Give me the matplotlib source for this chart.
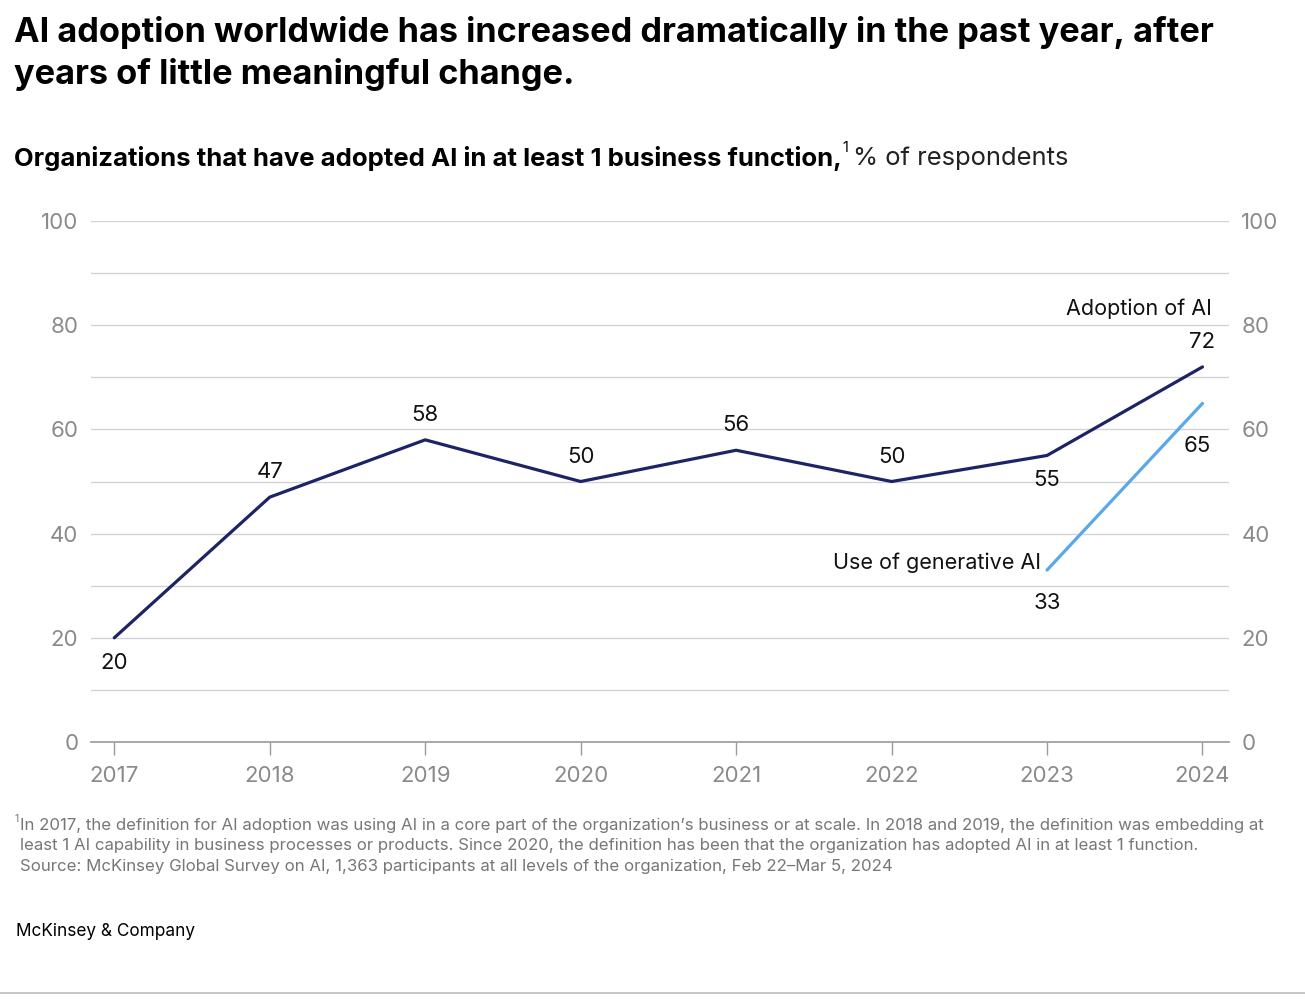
import matplotlib
matplotlib.use("Agg")
import matplotlib.pyplot as plt

plt.rcParams['font.family'] = ['Inter', 'DejaVu Sans']

years = [2017, 2018, 2019, 2020, 2021, 2022, 2023, 2024]
adoption = [20, 47, 58, 50, 56, 50, 55, 72]
genai_years = [2023, 2024]
genai = [33, 65]
# label side: 1 above, -1 below
adoption_side = [-1, 1, 1, 1, 1, 1, -1, 1]

navy = "#1c2466"
light = "#5aa8e8"
grid_c = "#d4d4d4"
tick_c = "#8a8a8a"

fig = plt.figure(figsize=(13.05, 10.02), dpi=100)
ax = fig.add_axes([0.0697, 0.2595, 0.872, 0.5199])

ax.plot(years, adoption, color=navy, linewidth=2.3, solid_capstyle="round", zorder=3)
ax.plot(genai_years, genai, color=light, linewidth=2.3, solid_capstyle="round", zorder=3)

for x, v, s in zip(years, adoption, adoption_side):
    ax.annotate(str(v), (x, v), xytext=(0, 18 * s), textcoords="offset points",
                ha="center", va="center", fontsize=16, color="#111111")
ax.annotate(str(genai[0]), (genai_years[0], genai[0]), xytext=(0, -24), textcoords="offset points",
            ha="center", va="center", fontsize=16, color="#111111")
ax.annotate(str(genai[1]), (genai_years[1], genai[1]), xytext=(-4, -31), textcoords="offset points",
            ha="center", va="center", fontsize=16, color="#111111")

ax.annotate("Adoption of AI", (years[-1], adoption[-1]), xytext=(7, 42), textcoords="offset points",
            ha="right", va="center", fontsize=15.5, color="#111111")
ax.annotate("Use of generative AI", (genai_years[0], genai[0]), xytext=(-4, 5), textcoords="offset points",
            ha="right", va="center", fontsize=15.5, color="#111111")

ax.set_xlim(2016.85, 2024.17)
ax.set_ylim(0, 100)
for sp in ["top", "right", "left"]:
    ax.spines[sp].set_visible(False)
ax.spines["bottom"].set_color("#9a9a9a")
ax.spines["bottom"].set_linewidth(1.2)

ax.set_xticks(years)
ax.set_xticklabels([str(y) for y in years])
ax.tick_params(axis="x", length=9.5, width=1, color="#9a9a9a", labelsize=16, labelcolor=tick_c, pad=8)
ax.set_yticks(range(0, 101, 20))
ax.set_yticks(range(10, 100, 20), minor=True)
ax.yaxis.grid(True, which="both", color=grid_c, linewidth=1)
ax.set_axisbelow(True)
ax.tick_params(axis="y", which="both", length=0, labelsize=16, labelcolor=tick_c, pad=9,
               labelleft=True, labelright=True)

# title and subtitle
fig.text(0.011, 0.984, "AI adoption worldwide has increased dramatically in the past year, after\nyears of little meaningful change.",
         ha="left", va="top", fontsize=24.7, fontweight="bold", color="#000000", linespacing=1.33)

sub = fig.text(0.011, 0.842, "Organizations that have adopted AI in at least 1 business function,",
               ha="left", va="center", fontsize=18.5, fontweight="bold", color="#000000")
fig.canvas.draw()
r = fig.canvas.get_renderer()
bb = sub.get_window_extent(r)
x1 = bb.x1 / fig.bbox.width
fig.text(x1 + 0.0005, 0.852, "1", ha="left", va="center", fontsize=10.5, color="#000000")
fig.text(x1 + 0.0085, 0.842, "% of respondents", ha="left", va="center", fontsize=18.4, color="#222222")

# footnote
fig.text(0.011, 0.183, "1", ha="left", va="center", fontsize=7.5, color="#777777")
foot = ("In 2017, the definition for AI adoption was using AI in a core part of the organization\u2019s business or at scale. In 2018 and 2019, the definition was embedding at\n"
        "least 1 AI capability in business processes or products. Since 2020, the definition has been that the organization has adopted AI in at least 1 function.\n"
        "Source: McKinsey Global Survey on AI, 1,363 participants at all levels of the organization, Feb 22\u2013Mar 5, 2024")
fig.text(0.0155, 0.184, foot, ha="left", va="top", fontsize=12.1, color="#777777", linespacing=1.47)

fig.text(0.012, 0.07, "McKinsey & Company", ha="left", va="center", fontsize=12.4, color="#000000")
fig.add_artist(plt.Line2D([0, 1], [0.009, 0.009], transform=fig.transFigure, color="#bbbbbb", linewidth=1.2))

fig.savefig("out.png", dpi=100)
